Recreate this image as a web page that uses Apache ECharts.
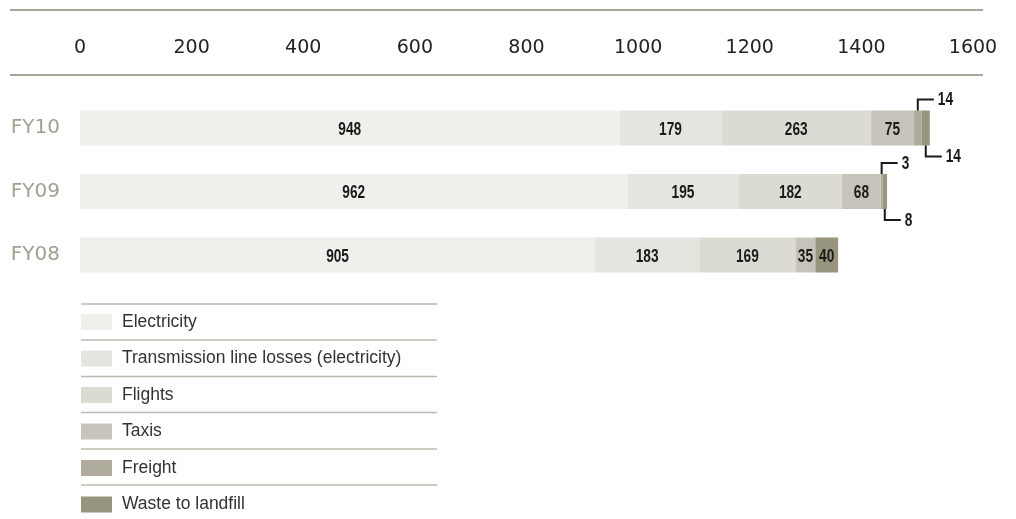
<!DOCTYPE html>
<html>
<head>
<meta charset="utf-8">
<script src="https://cdn.jsdelivr.net/npm/echarts@6/dist/echarts.min.js"></script>
<style>html,body{margin:0;padding:0;background:#fff;}#c{width:1016px;height:519px;}</style>
</head>
<body>
<div id="c"></div>
<script>
// ---- data ----
var categories = ['FY10', 'FY09', 'FY08'];
var seriesNames = ['Electricity', 'Transmission line losses (electricity)', 'Flights', 'Taxis', 'Freight', 'Waste to landfill'];
var electricity = [948, 962, 905];
var transmission = [179, 195, 183];
var flights = [263, 182, 169];
var taxis = [75, 68, 35];
var freight = [14, 3, 0];
var waste = [14, 8, 40];
var tickLabels = [0, 200, 400, 600, 800, 1000, 1200, 1400, 1600];
// values labelled outside the bar with a bracket: [seriesIndex, categoryIndex, direction (1 up, -1 down)]
var callouts = [[4, 0, 1], [5, 0, -1], [4, 1, 1], [5, 1, -1]];

var colors = ['#efefeb', '#e5e4df', '#dcdbd3', '#c6c4ba', '#aeab9c', '#98957f'];
var allValues = [electricity, transmission, flights, taxis, freight, waste];

var labelFont = "bold 18px 'Liberation Sans', Arial, sans-serif";
var labelScale = 0.76;

function calloutDir(s, c) {
  for (var i = 0; i < callouts.length; i++) if (callouts[i][0] === s && callouts[i][1] === c) return callouts[i][2];
  return 0;
}

var series = seriesNames.map(function (name, s) {
  return {
    name: name,
    type: 'bar',
    stack: 'total',
    xAxisIndex: 1,
    barWidth: 35,
    itemStyle: { color: colors[s] },
    label: { show: false },
    emphasis: { disabled: true },
    data: allValues[s].map(function (v) { return v === 0 ? null : v; })
  };
});

// label data: [x middle of segment, category, value, direction (0 = inside)]
var labelData = [];
for (var s = 0; s < allValues.length; s++) {
  for (var c = 0; c < categories.length; c++) {
    var v = allValues[s][c];
    if (!v) continue;
    var start = 0;
    for (var k = 0; k < s; k++) start += allValues[k][c];
    labelData.push([start + v / 2, categories[c], v, calloutDir(s, c)]);
  }
}

series.push({
  type: 'custom',
  xAxisIndex: 1,
  encode: { x: 0, y: 1 },
  silent: true,
  data: labelData,
  z: 10,
  renderItem: function (params, api) {
    var p = api.coord([api.value(0), api.value(1)]);
    var dir = api.value(3);
    var txt = String(api.value(2));
    if (!dir) {
      return { type: 'text', x: p[0], y: p[1] + 2, scaleX: labelScale,
        style: { x: 0, y: 0, text: txt, fill: '#1a1a1a', font: labelFont, align: 'center', verticalAlign: 'middle' } };
    }
    var half = 17.5;
    var y0 = p[1] - dir * half;
    var y1 = p[1] - dir * (half + 11);
    var x0 = p[0];
    var x1 = p[0] + 16;
    return {
      type: 'group',
      children: [
        { type: 'polyline', shape: { points: [[x0, y0], [x0, y1], [x1, y1]] },
          style: { stroke: '#1a1a1a', lineWidth: 2, fill: null } },
        { type: 'text', x: x1 + 4, y: y1 + 1, scaleX: labelScale,
          style: { x: 0, y: 0, text: txt, fill: '#1a1a1a', font: labelFont, verticalAlign: 'middle', align: 'left' } }
      ]
    };
  }
});

var legendLineYs = [304, 340, 376.5, 412.5, 449, 485];
var graphics = [
  { type: 'line', shape: { x1: 10, y1: 10, x2: 983, y2: 10 }, style: { stroke: '#a8a596', lineWidth: 2 } },
  { type: 'line', shape: { x1: 10, y1: 75, x2: 983, y2: 75 }, style: { stroke: '#a8a596', lineWidth: 2 } }
];
legendLineYs.forEach(function (y) {
  graphics.push({ type: 'line', shape: { x1: 81, y1: y, x2: 437, y2: y }, style: { stroke: '#bcb9ae', lineWidth: 1.5 } });
});

var chart = echarts.init(document.getElementById('c'), null, { renderer: 'canvas' });
chart.setOption({
  animation: false,
  backgroundColor: '#fff',
  grid: { left: 80, right: 43, top: 96.25, bottom: 232.25, containLabel: false },
  xAxis: [
    {
      type: 'value', position: 'top', min: 0, max: 1600, interval: 200,
      axisLine: { show: false }, axisTick: { show: false }, splitLine: { show: false },
      axisLabel: { margin: 39, color: '#222', fontFamily: "'DejaVu Sans', sans-serif", fontSize: 19,
        formatter: function (v) { return tickLabels.indexOf(v) >= 0 ? String(v) : ''; } }
    },
    { type: 'value', show: false, min: 0, max: 1569 }
  ],
  yAxis: {
    type: 'category', inverse: true, data: categories,
    axisLine: { show: false }, axisTick: { show: false }, splitLine: { show: false },
    axisLabel: { margin: 20, color: '#a29f90', fontFamily: "'DejaVu Sans', sans-serif", fontSize: 20 }
  },
  legend: {
    orient: 'vertical', left: 81, top: 313, height: 230, padding: 0,
    data: seriesNames,
    itemWidth: 31, itemHeight: 16, itemGap: 18.5,
    icon: 'rect', selectedMode: false,
    textStyle: { color: '#333', fontFamily: "'Liberation Sans', Arial, sans-serif", fontSize: 17.5, padding: [0, 0, 0, 5] }
  },
  graphic: graphics,
  series: series
});
</script>
</body>
</html>
